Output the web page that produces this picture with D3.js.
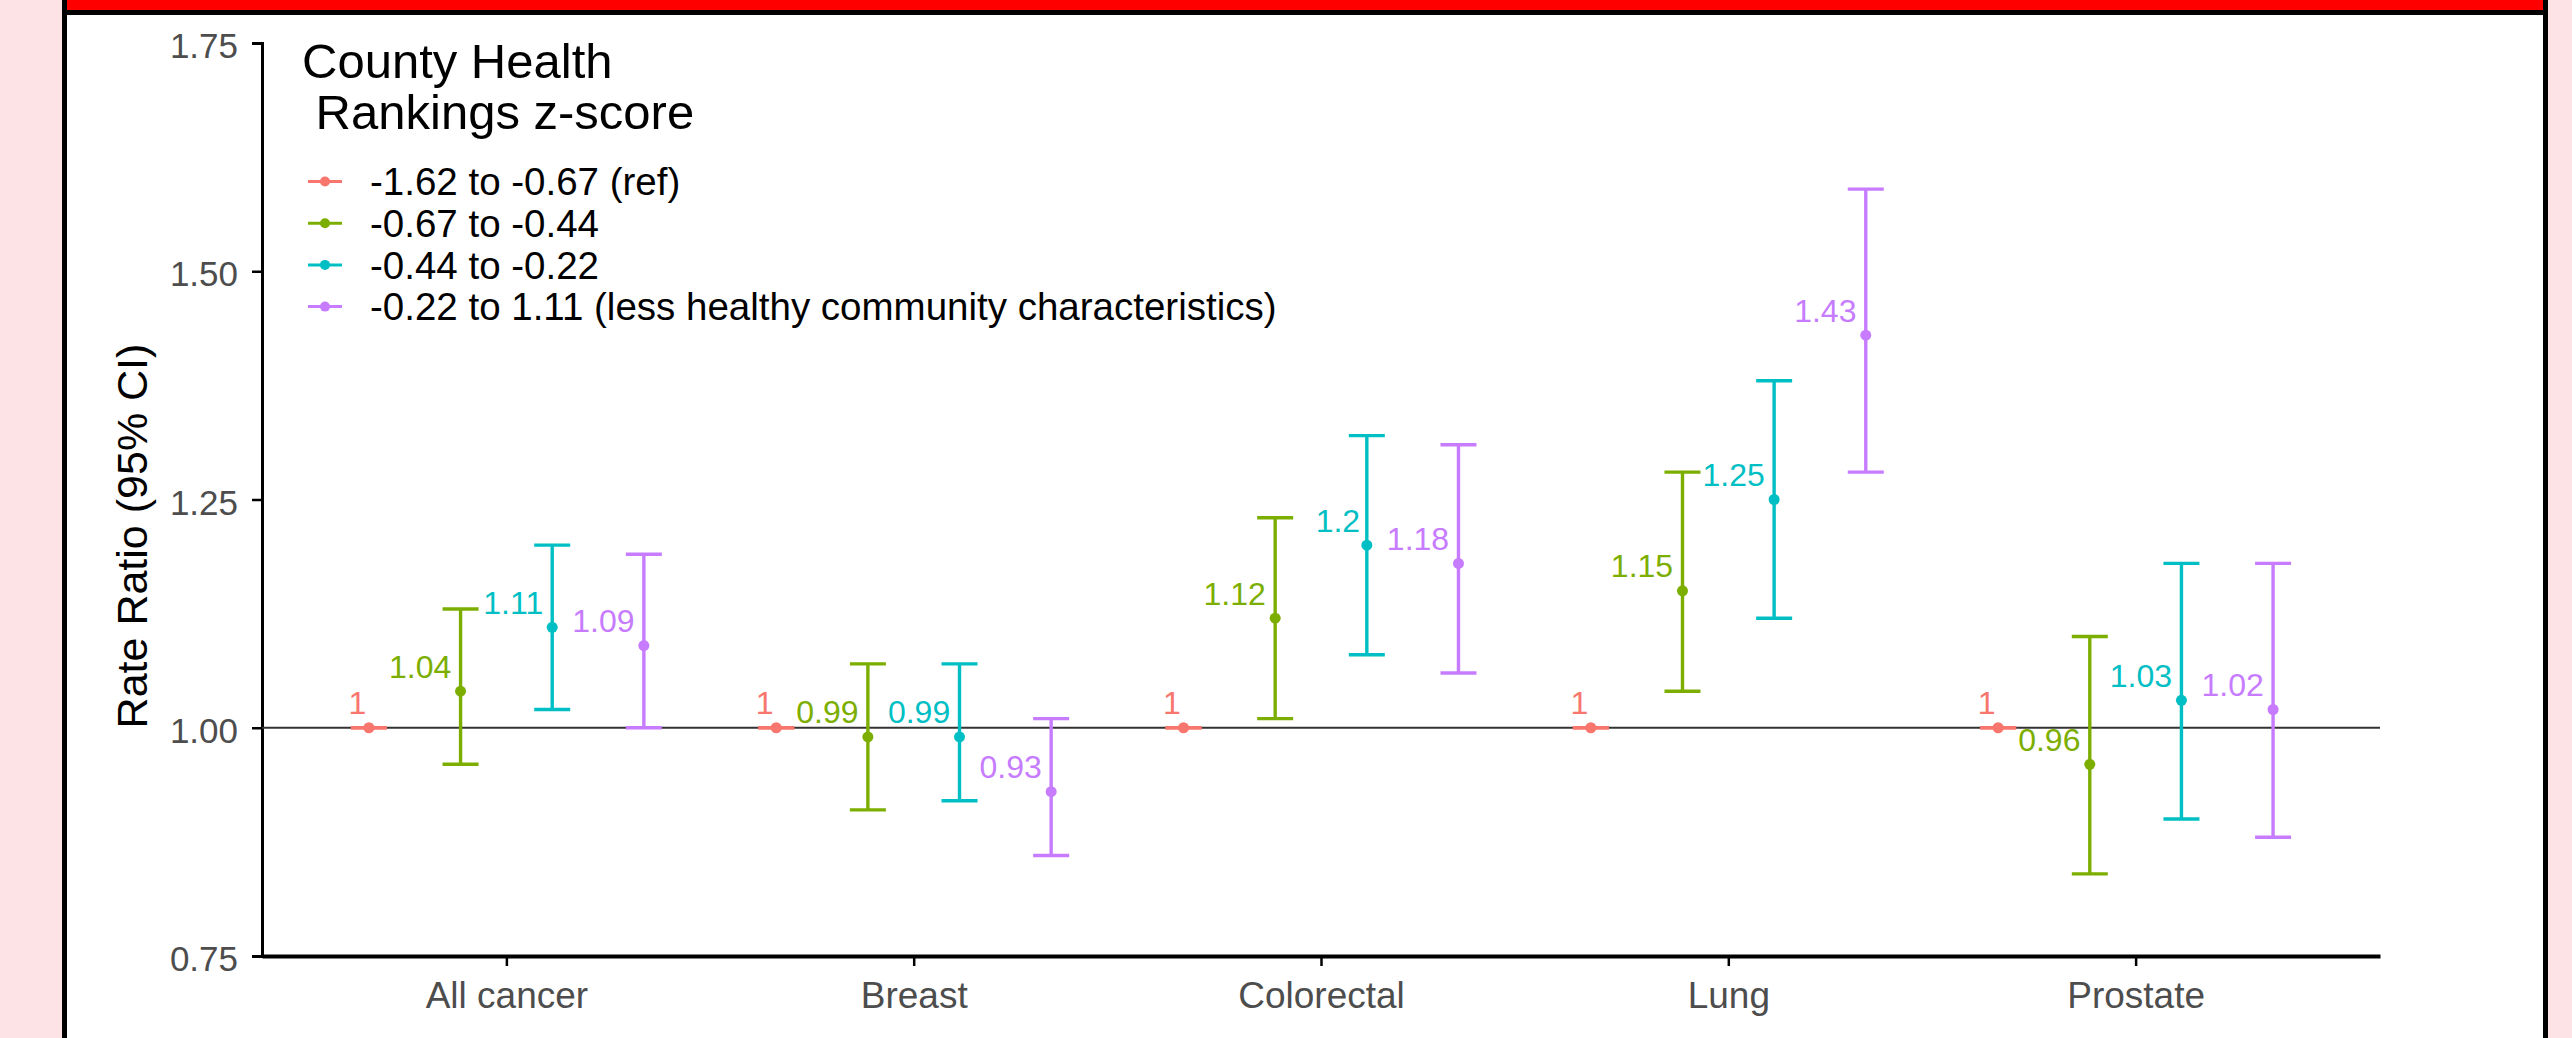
<!DOCTYPE html>
<html>
<head>
<meta charset="utf-8">
<script src="https://cdn.jsdelivr.net/npm/d3@7"></script>
<style>
  body { margin: 0; background: #fde3e6; overflow: hidden; }
  text { font-family: "Liberation Sans", Arial, sans-serif; }
</style>
</head>
<body>
<svg id="chart"></svg>
<script>
const categories = ['All cancer', 'Breast', 'Colorectal', 'Lung', 'Prostate'];
const groups = [
    '-1.62 to -0.67 (ref)',
    '-0.67 to -0.44',
    '-0.44 to -0.22',
    '-0.22 to 1.11 (less healthy community characteristics)'
];
const colors = ['#F8766D', '#7CAE00', '#00BFC4', '#C77CFF'];

// rate ratio, lower and upper CI, one array per group (order = categories)
const rrRef = [1, 1, 1, 1, 1];
const loRef = [1, 1, 1, 1, 1];
const hiRef = [1, 1, 1, 1, 1];

const rrG2 = [1.04, 0.99, 1.12, 1.15, 0.96];
const loG2 = [0.96, 0.91, 1.01, 1.04, 0.84];
const hiG2 = [1.13, 1.07, 1.23, 1.28, 1.10];

const rrG3 = [1.11, 0.99, 1.20, 1.25, 1.03];
const loG3 = [1.02, 0.92, 1.08, 1.12, 0.90];
const hiG3 = [1.20, 1.07, 1.32, 1.38, 1.18];

const rrG4 = [1.09, 0.93, 1.18, 1.43, 1.02];
const loG4 = [1.00, 0.86, 1.06, 1.28, 0.88];
const hiG4 = [1.19, 1.01, 1.31, 1.59, 1.18];

const yTicks = [0.75, 1.00, 1.25, 1.50, 1.75];

const rr = [rrRef, rrG2, rrG3, rrG4];
const lo = [loRef, loG2, loG3, loG4];
const hi = [hiRef, hiG2, hiG3, hiG4];

const data = [];
groups.forEach((g, gi) => {
    categories.forEach((c, ci) => {
        data.push({ cat: c, group: g, gi: gi, est: rr[gi][ci], lo: lo[gi][ci], hi: hi[gi][ci] });
    });
});

const W = 2572, H = 1038;
const svg = d3.select('#chart').attr('width', W).attr('height', H);

// slide frame
svg.append('rect').attr('x', 62).attr('y', 0).attr('width', 2486).attr('height', H).attr('fill', '#000');
svg.append('rect').attr('x', 67).attr('y', 0).attr('width', 2476).attr('height', 10).attr('fill', '#ff0000');
svg.append('rect').attr('x', 67).attr('y', 15).attr('width', 2476).attr('height', H - 15).attr('fill', '#fff');

const plot = { left: 262, right: 2380, top: 43, bottom: 956 };

const xScale = d3.scalePoint()
    .domain(categories)
    .range([plot.left, plot.right])
    .padding(0.6);

const dodge = d3.scaleBand()
    .domain(groups)
    .range([-0.45 * xScale.step(), 0.45 * xScale.step()]);

const yScale = d3.scaleLinear()
    .domain([0.75, 1.75])
    .range([plot.bottom, plot.top]);

const color = d3.scaleOrdinal().domain(groups).range(colors);

const xPos = d => xScale(d.cat) + dodge(d.group) + dodge.bandwidth() / 2;

// axes
const yAxis = d3.axisLeft(yScale)
    .tickValues(yTicks)
    .tickFormat(d3.format('.2f'))
    .tickSize(10)
    .tickPadding(14);

const gy = svg.append('g')
    .attr('transform', `translate(${plot.left},0)`)
    .call(yAxis);
gy.select('.domain').attr('stroke', '#000').attr('stroke-width', 3);
gy.selectAll('.tick line').attr('stroke', '#000').attr('stroke-width', 2.5);
gy.selectAll('.tick text')
    .attr('fill', '#4d4d4d')
    .attr('font-size', 35)
    .attr('dy', '0.42em');

const xAxis = d3.axisBottom(xScale)
    .tickSize(10)
    .tickPadding(16)
    .tickSizeOuter(0);

const gx = svg.append('g')
    .attr('transform', `translate(0,${plot.bottom})`)
    .call(xAxis);
gx.select('.domain').attr('stroke', '#000').attr('stroke-width', 4);
gx.selectAll('.tick line').attr('stroke', '#000').attr('stroke-width', 2.5);
gx.selectAll('.tick text')
    .attr('fill', '#4d4d4d')
    .attr('font-size', 37);

// reference line at 1
svg.append('line')
    .attr('x1', plot.left).attr('x2', plot.right)
    .attr('y1', yScale(1)).attr('y2', yScale(1))
    .attr('stroke', '#333').attr('stroke-width', 2);

// y axis title
svg.append('text')
    .attr('transform', `translate(147,536) rotate(-90)`)
    .attr('text-anchor', 'middle')
    .attr('font-size', 43)
    .attr('fill', '#000')
    .text('Rate Ratio (95% CI)');

// error bars
const capW = 36;
const bars = svg.append('g').selectAll('g.bar')
    .data(data)
    .join('g')
    .attr('class', 'bar')
    .attr('stroke', d => color(d.group))
    .attr('stroke-width', 3.4);

bars.append('line')
    .attr('x1', xPos).attr('x2', xPos)
    .attr('y1', d => yScale(d.lo)).attr('y2', d => yScale(d.hi));
bars.append('line')
    .attr('x1', d => xPos(d) - capW / 2).attr('x2', d => xPos(d) + capW / 2)
    .attr('y1', d => yScale(d.hi)).attr('y2', d => yScale(d.hi));
bars.append('line')
    .attr('x1', d => xPos(d) - capW / 2).attr('x2', d => xPos(d) + capW / 2)
    .attr('y1', d => yScale(d.lo)).attr('y2', d => yScale(d.lo));

svg.append('g').selectAll('circle')
    .data(data)
    .join('circle')
    .attr('cx', xPos)
    .attr('cy', d => yScale(d.est))
    .attr('r', 5.5)
    .attr('fill', d => color(d.group));

// value labels
svg.append('g').selectAll('text')
    .data(data)
    .join('text')
    .attr('y', d => yScale(d.est) - 25)
    .attr('dy', '0.36em')
    .attr('text-anchor', 'end')
    .attr('font-size', 32)
    .attr('fill', d => color(d.group))
    .text(d => String(d.est))
    .attr('x', function (d) {
        return xPos(d) - 0.15 * this.getComputedTextLength();
    });

// legend
const legend = svg.append('g');
legend.append('text')
    .attr('x', 302).attr('y', 78)
    .attr('font-size', 49)
    .attr('fill', '#000')
    .text('County Health');
legend.append('text')
    .attr('x', 302).attr('y', 129)
    .attr('font-size', 49)
    .attr('fill', '#000')
    .style('white-space', 'pre')
    .text(' Rankings z-score');

const rowY = i => 181.5 + i * 41.7;
const items = legend.selectAll('g.item')
    .data(groups)
    .join('g')
    .attr('class', 'item')
    .attr('transform', (d, i) => `translate(0,${rowY(i)})`);
items.append('line')
    .attr('x1', 308).attr('x2', 342)
    .attr('stroke', d => color(d))
    .attr('stroke-width', 3);
items.append('circle')
    .attr('cx', 325).attr('r', 5)
    .attr('fill', d => color(d));
items.append('text')
    .attr('x', 370)
    .attr('dy', '0.36em')
    .attr('font-size', 38.5)
    .attr('fill', '#000')
    .text(d => d);
</script>
</body>
</html>
